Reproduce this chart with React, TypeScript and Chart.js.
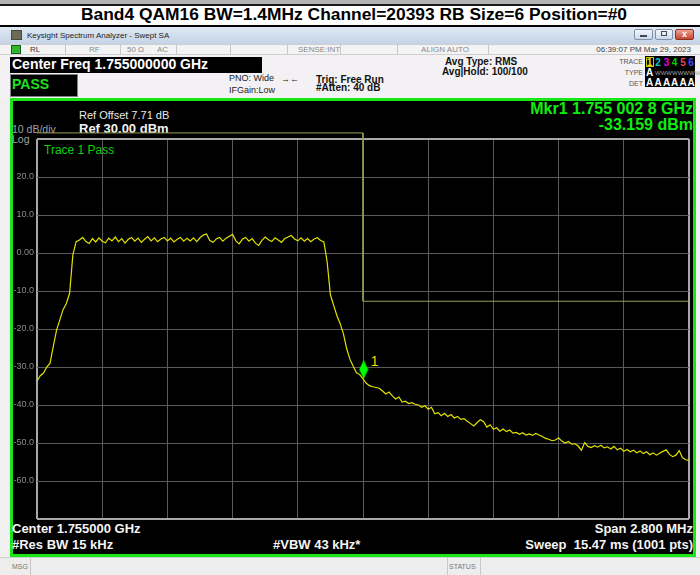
import React, { useEffect, useRef } from 'react';
import { Chart, registerables } from 'chart.js';

Chart.register(...registerables);

// ---- sweep / data ----
const START_MHZ = 1753.6;
const STOP_MHZ = 1756.4;

// Trace 1 (dBm), evenly spaced over the sweep
const traceDbm = [
  -33.7, -32.3, -31.6, -30.0, -29.0, -24.6, -20.3, -17.6, -14.9, -13.3,
  -10.6, -0.5, 3.0, 3.4, 4.1, 3.0, 2.5, 3.8, 2.9, 4.0,
  3.1, 2.7, 3.9, 3.2, 4.2, 3.0, 3.8, 2.6, 3.6, 4.1,
  3.1, 3.9, 2.8, 3.6, 4.3, 3.2, 4.0, 3.0, 3.7, 4.1,
  3.2, 3.9, 2.9, 3.6, 4.1, 3.1, 3.9, 3.2, 4.0, 3.0,
  4.0, 4.7, 5.0, 3.3, 2.8, 3.7, 4.1, 3.1, 3.9, 4.4,
  4.9, 3.2, 2.4, 3.6, 4.1, 3.1, 3.8, 2.6, 2.0, 3.3,
  4.2, 3.5, 3.0, 4.0, 3.4, 2.8, 3.8, 4.2, 4.6, 3.7,
  3.2, 4.0, 3.1, 3.8, 3.0, 3.7, 4.0, 3.3, 2.9, -2.3,
  -11.0, -13.8, -16.5, -18.6, -21.3, -25.2, -28.0, -29.8, -31.5, -32.0,
  -33.1, -34.3, -34.9, -35.2, -35.4, -35.6, -36.3, -37.1, -36.6, -37.6,
  -38.4, -37.9, -39.2, -39.0, -39.6, -39.4, -39.8, -40.0, -40.6, -40.2,
  -41.1, -40.6, -42.3, -42.0, -42.8, -42.2, -43.0, -42.5, -43.4, -43.0,
  -43.8, -43.6, -44.3, -44.9, -45.5, -44.6, -43.9, -44.4, -45.8, -45.2,
  -46.4, -46.0, -46.9, -46.3, -47.0, -46.6, -47.4, -47.2, -47.7, -47.3,
  -47.9, -47.6, -48.0, -47.5, -47.9, -48.3, -48.8, -49.0, -49.4, -49.2,
  -48.7, -49.5, -50.0, -49.6, -50.3, -50.2, -50.8, -51.9, -49.9, -50.9,
  -51.2, -50.7, -51.1, -50.6, -51.3, -51.0, -51.6, -50.9, -51.8, -51.4,
  -52.2, -51.7, -52.3, -51.9, -52.6, -52.1, -52.8, -52.3, -53.1, -52.6,
  -53.2, -52.7, -52.2, -51.8, -53.0, -53.6, -53.2, -52.0, -53.9, -54.4,
  -54.6,
];

// Limit line
const limitFreqMHz = [1753.6, 1755.0, 1755.0, 1756.4];
const limitDbm = [31.6, 31.6, -12.7, -12.7];

// Marker 1
const markerFreqMHz = 1755.0028;
const markerDbm = -33.159;
const markerName = '1';

// Graticule
const xGridMHz = [1753.6, 1753.88, 1754.16, 1754.44, 1754.72, 1755.0, 1755.28, 1755.56, 1755.84, 1756.12, 1756.4];
const yTickValues = [-70, -60, -50, -40, -30, -20, -10, 0, 10, 20, 30];
const yTickLabels = ['', '-60.0', '-50.0', '-40.0', '-30.0', '-20.0', '-10.0', '0.00', '10.0', '20.0', ''];

const FONT = '"Liberation Sans", Arial, sans-serif';
const W = 700;

type TP = { x: number; b: number; s: number; w?: boolean; c?: string; a?: 'left' | 'right' | 'center'; children: any };
const T = ({ x, b, s, w, c, a, children }: TP) => {
  const style: any = {
    position: 'absolute',
    top: b - 0.8465 * s,
    fontSize: s,
    lineHeight: s + 'px',
    fontWeight: w ? 'bold' : 'normal',
    color: c || '#000',
    whiteSpace: 'pre',
    fontFamily: FONT,
  };
  if (a === 'right') style.right = W - x;
  else if (a === 'center') { style.left = x; style.transform = 'translateX(-50%)'; }
  else style.left = x;
  return <div style={style}>{children}</div>;
};

const Box = ({ l, t, w, h, st }: { l: number; t: number; w: number; h: number; st?: any }) => (
  <div style={{ position: 'absolute', left: l, top: t, width: w, height: h, boxSizing: 'border-box', ...(st || {}) }} />
);

export default function App() {
  const ref = useRef<HTMLCanvasElement>(null);

  useEffect(() => {
    const canvas = ref.current!;
    const mk = document.createElement('canvas');
    mk.width = 10; mk.height = 40;
    const m = mk.getContext('2d')!;
    m.fillStyle = '#00ff00';
    m.beginPath();
    m.moveTo(5, 1); m.lineTo(9.5, 10.5); m.lineTo(5, 20); m.lineTo(0.5, 10.5);
    m.closePath(); m.fill();

    const step = (STOP_MHZ - START_MHZ) / (traceDbm.length - 1);
    const tracePts = traceDbm.map((y, i) => ({ x: START_MHZ + i * step, y }));
    const limitPts = limitFreqMHz.map((x, i) => ({ x, y: limitDbm[i] }));

    const markerLabel = {
      id: 'markerLabel',
      afterDatasetsDraw(chart: any) {
        const { ctx, scales } = chart;
        const px = scales.x.getPixelForValue(markerFreqMHz);
        const py = scales.y.getPixelForValue(markerDbm);
        ctx.save();
        ctx.fillStyle = '#e6e600';
        ctx.font = '14px ' + FONT;
        ctx.textBaseline = 'alphabetic';
        ctx.textAlign = 'left';
        ctx.fillText(markerName, px + 7, py - 13);
        ctx.restore();
      },
    };

    const edgeX = (ctx: any) => ctx.index === 0 || ctx.index === xGridMHz.length - 1;
    const edgeY = (ctx: any) => ctx.tick && (ctx.tick.value === yTickValues[0] || ctx.tick.value === yTickValues[yTickValues.length - 1]);

    const chart = new Chart(canvas, {
      type: 'line',
      data: {
        datasets: [
          {
            label: 'Limit', data: limitPts, borderColor: '#9a9a52', borderWidth: 1,
            pointRadius: 0, clip: false as any, order: 2, tension: 0,
          },
          {
            label: 'Trace 1', data: tracePts, borderColor: '#e2e200', borderWidth: 1.2,
            pointRadius: 0, order: 1, tension: 0,
          },
          {
            label: 'Mkr1', data: [{ x: markerFreqMHz, y: markerDbm }], showLine: false,
            pointStyle: mk as any, pointRadius: 10, order: 0, clip: false as any,
          },
        ],
      },
      options: {
        animation: false,
        responsive: false,
        maintainAspectRatio: false,
        events: [],
        layout: { padding: { left: 0, top: 139, right: 8, bottom: 56 } },
        plugins: { legend: { display: false }, tooltip: { enabled: false } },
        scales: {
          x: {
            type: 'linear', min: START_MHZ, max: STOP_MHZ,
            afterBuildTicks: (s: any) => { s.ticks = xGridMHz.map((v) => ({ value: v })); },
            afterFit: (s: any) => { s.height = 0; },
            ticks: { display: false },
            grid: {
              drawTicks: false,
              color: (ctx: any) => (edgeX(ctx) ? '#a8a8a8' : '#5a5a5a'),
              lineWidth: (ctx: any) => (edgeX(ctx) ? 2 : 1),
            },
            border: { display: false },
          },
          y: {
            type: 'linear', min: -70, max: 30,
            afterBuildTicks: (s: any) => { s.ticks = yTickValues.map((v) => ({ value: v })); },
            afterFit: (s: any) => { s.width = 37; },
            ticks: {
              callback: (v: any) => yTickLabels[yTickValues.indexOf(Number(v))] ?? '',
              color: '#8c8c8c',
              font: { size: 9, family: FONT },
              padding: 3,
              autoSkip: false,
            },
            grid: {
              drawTicks: false,
              color: (ctx: any) => (edgeY(ctx) ? '#a8a8a8' : '#5a5a5a'),
              lineWidth: (ctx: any) => (edgeY(ctx) ? 2 : 1),
            },
            border: { display: false },
          },
        },
      } as any,
      plugins: [markerLabel],
    });
    return () => chart.destroy();
  }, []);

  const numCenters = [649.5, 658, 666.5, 674.5, 683, 691];
  const numColors = ['#e6e600', '#00c8c8', '#e000e0', '#00d000', '#e84060', '#4848ff'];

  return (
    <div style={{ position: 'absolute', left: 0, top: 0, width: 700, height: 575, overflow: 'hidden', background: '#f0f0f0', fontFamily: FONT }}>
      {/* top strip + title */}
      <Box l={0} t={0} w={700} h={4} st={{ background: '#b4b4b4' }} />
      <Box l={0} t={4} w={700} h={2} st={{ background: '#1a1a1a' }} />
      <Box l={0} t={6} w={700} h={19} st={{ background: '#ffffff' }} />
      <T x={354} b={20.5} s={17.4} w a="center">Band4 QAM16 BW=1.4MHz Channel=20393 RB Size=6 Position=#0</T>
      <Box l={0} t={25} w={700} h={2} st={{ background: '#000' }} />

      {/* window title bar */}
      <Box l={0} t={27} w={700} h={17} st={{ background: 'linear-gradient(#dfe8f4, #c4d3e6)' }} />
      <Box l={11} t={30} w={11} h={10} st={{ background: '#6e6a58', border: '1px solid #4a4838' }} />
      <T x={27} b={38.5} s={8} c="#1e1e1e">Keysight Spectrum Analyzer - Swept SA</T>
      <Box l={634} t={29} w={19} h={11} st={{ background: 'linear-gradient(#f4f7fb, #cbd7e7)', border: '1px solid #7f91a8', borderRadius: 2 }} />
      <Box l={640} t={35} w={7} h={2} st={{ background: '#404a58' }} />
      <Box l={655} t={29} w={18} h={11} st={{ background: 'linear-gradient(#f4f7fb, #cbd7e7)', border: '1px solid #7f91a8', borderRadius: 2 }} />
      <Box l={661} t={31} w={6} h={5} st={{ border: '1px solid #404a58' }} />
      <Box l={675} t={29} w={19} h={11} st={{ background: 'linear-gradient(#eba393, #c8452f)', border: '1px solid #8a3020', borderRadius: 2 }} />
      <T x={684.5} b={38} s={9} w c="#ffffff" a="center">x</T>

      {/* status row */}
      <Box l={0} t={44} w={700} h={11} st={{ background: '#f3f3f3', borderTop: '1px solid #cfcfcf', borderBottom: '1px solid #cfcfcf' }} />
      <Box l={11} t={45} w={10} h={9} st={{ background: '#2fb82f', border: '1px solid #186018' }} />
      {[65, 120, 176, 230, 287, 340, 397, 488].map((x) => (
        <Box key={x} l={x} t={44} w={1} h={11} st={{ background: '#c8c8c8' }} />
      ))}
      <T x={30} b={52.5} s={8} c="#333">RL</T>
      <T x={89} b={52.5} s={8} c="#8a8a8a">RF</T>
      <T x={127} b={52.5} s={8} c="#8a8a8a">50 Ω</T>
      <T x={157} b={52.5} s={8} c="#8a8a8a">AC</T>
      <T x={298} b={52.5} s={8} c="#8a8a8a">SENSE:INT</T>
      <T x={445} b={52.5} s={8} c="#8a8a8a" a="center">ALIGN AUTO</T>
      <T x={691} b={52.5} s={8} c="#444" a="right">06:39:07 PM Mar 29, 2023</T>

      {/* info panel */}
      <Box l={0} t={55} w={700} h={43} st={{ background: '#f3f1f3' }} />
      <Box l={10} t={57} w={252} h={16} st={{ background: '#000' }} />
      <T x={12} b={69} s={14} w c="#fff">Center Freq 1.755000000 GHz</T>
      <Box l={10} t={74} w={68} h={23} st={{ background: '#000', border: '1px solid #808080' }} />
      <T x={12} b={89} s={14} w c="#22e022">PASS</T>
      <T x={229} b={81.7} s={9} c="#222">PNO: Wide</T>
      <T x={229} b={93.3} s={9} c="#222">IFGain:Low</T>
      <T x={281} b={83} s={9} c="#222">→←</T>
      <T x={316} b={83.3} s={10} w c="#111">Trig: Free Run</T>
      <T x={316} b={91.7} s={10} w c="#111">#Atten: 40 dB</T>
      <T x={445} b={65.7} s={10} w c="#111">Avg Type: RMS</T>
      <T x={442} b={75.5} s={10} w c="#111">Avg|Hold: 100/100</T>

      {/* trace panel */}
      <T x={643} b={64} s={7} c="#555" a="right">TRACE</T>
      <T x={643} b={75} s={7} c="#555" a="right">TYPE</T>
      <T x={643} b={85.5} s={7} c="#555" a="right">DET</T>
      <Box l={645} t={56} w={50} h={31} st={{ background: '#000' }} />
      <Box l={646} t={57} w={8} h={10} st={{ border: '1px solid #c8c800' }} />
      {numCenters.map((x, i) => (
        <T key={'n' + i} x={x} b={66} s={10} w c={numColors[i]} a="center">{String(i + 1)}</T>
      ))}
      <T x={649.5} b={76} s={10} w c="#fff" a="center">A</T>
      <T x={655} b={75} s={6} c="#a0a0a0">WWWWWWWWW</T>
      {numCenters.map((x, i) => (
        <T key={'d' + i} x={x} b={86} s={10} w c="#fff" a="center">A</T>
      ))}

      {/* main display */}
      <Box l={10} t={98} w={686} h={459} st={{ background: '#000', border: '3px solid #19e619' }} />
      <T x={79} b={119.3} s={11} c="#e8e8e8">Ref Offset 7.71 dB</T>
      <T x={79} b={132.7} s={13} w c="#f2f2f2">Ref 30.00 dBm</T>
      <T x={12} b={133} s={10.5} c="#a0a0a0">10 dB/div</T>
      <T x={12} b={143.3} s={10.5} c="#a0a0a0">Log</T>
      <T x={44} b={154} s={12} c="#10d010">Trace 1 Pass</T>
      <T x={693} b={114.5} s={16} w c="#10ee10" a="right">Mkr1 1.755 002 8 GHz</T>
      <T x={693} b={130.5} s={16} w c="#10ee10" a="right">-33.159 dBm</T>

      <T x={12} b={533} s={13} w c="#f4f4f4">Center 1.755000 GHz</T>
      <T x={12} b={549.3} s={13} w c="#f4f4f4">#Res BW 15 kHz</T>
      <T x={273} b={549.3} s={13} w c="#f4f4f4">#VBW 43 kHz*</T>
      <T x={693} b={533} s={13} w c="#f4f4f4" a="right">Span 2.800 MHz</T>
      <T x={693} b={549.3} s={13} w c="#f4f4f4" a="right">Sweep  15.47 ms (1001 pts)</T>

      {/* bottom status bar */}
      <Box l={0} t={557} w={700} h={18} st={{ background: '#ededed', borderTop: '1px solid #cfcfcf' }} />
      <Box l={30} t={557} w={1} h={18} st={{ background: '#c8c8c8' }} />
      <Box l={447} t={557} w={1} h={18} st={{ background: '#c8c8c8' }} />
      <Box l={480} t={557} w={1} h={18} st={{ background: '#c8c8c8' }} />
      <T x={12} b={569} s={7} c="#777">MSG</T>
      <T x={449} b={569} s={7} c="#777">STATUS</T>

      <canvas ref={ref} width={700} height={575} style={{ position: 'absolute', left: 0, top: 0, width: 700, height: 575 }} />
    </div>
  );
}
